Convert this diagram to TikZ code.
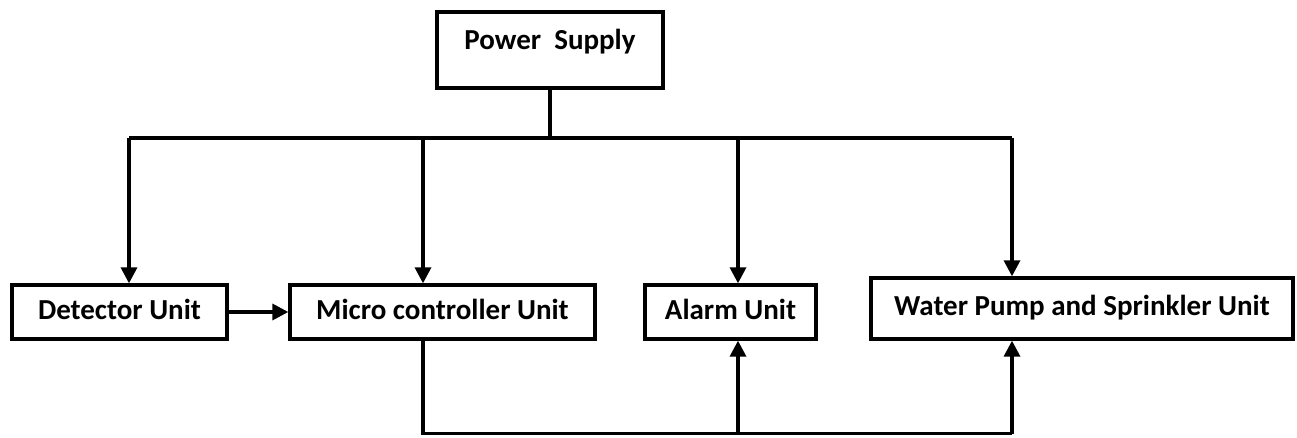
\documentclass[tikz,border=0pt]{standalone}
\usepackage{fontspec}
\setmainfont{Carlito}
\usepackage{tikz}
\usetikzlibrary{arrows.meta,positioning}
\tikzset{
  blk/.style={draw=black,line width=1.9pt,inner sep=0pt,align=center,font=\bfseries\fontsize{16.5}{19}\selectfont,text height=0.4cm,text depth=0.12cm},
  ar/.style={-{Triangle[length=3.2mm,width=3.2mm]},line width=1.9pt},
  ln/.style={line width=1.9pt}
}

\begin{document}
\begin{tikzpicture}
\useasboundingbox (0,0) rectangle (25.94,8.74);
\node[blk,minimum width=4.52cm,minimum height=1.52cm,text depth=0.4cm] (pwr) at (11.0,7.74) {Power\ \ Supply};
\node[blk,minimum width=4.3cm,minimum height=1.08cm] (det) at (2.39,2.5) {Detector Unit};
\node[blk,minimum width=6.1cm,minimum height=1.08cm] (mcu) at (8.85,2.5) {Micro controller Unit};
\node[blk,minimum width=3.42cm,minimum height=1.08cm] (alm) at (14.61,2.5) {Alarm Unit};
\node[blk,minimum width=8.44cm,minimum height=1.22cm] (wps) at (21.64,2.57) {Water Pump and Sprinkler Unit};
% supply bus
\coordinate (b1) at (2.58,5.98);
\coordinate (b2) at (8.46,5.98);
\coordinate (b3) at (14.76,5.98);
\coordinate (b4) at (20.24,5.98);
\draw[ln] (pwr.south) -- (pwr.south |- b1);
\draw[ln] (b1) -- (b4);
\foreach \p/\q in {b1/det,b2/mcu,b3/alm,b4/wps}{\draw[ar] (\p) -- (\p |- \q.north);}
\draw[ar] (det) -- (mcu);
% control bus
\coordinate (c1) at (8.46,0.07);
\coordinate (c2) at (14.76,0.07);
\coordinate (c3) at (20.24,0.07);
\draw[ln] (c1 |- mcu.south) -- (c1) -- (c3);
\foreach \p/\q in {c2/alm,c3/wps}{\draw[ar] (\p) -- (\p |- \q.south);}
\end{tikzpicture}
\end{document}
